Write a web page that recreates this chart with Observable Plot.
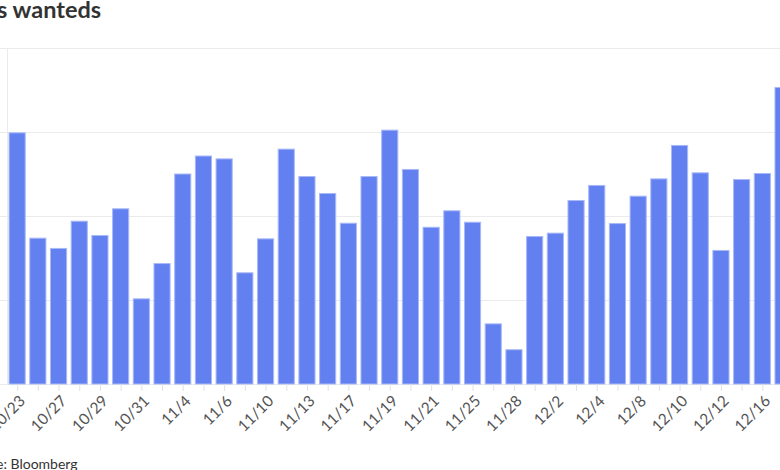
<!DOCTYPE html>
<html>
<head>
<meta charset="utf-8">
<script src="https://cdn.jsdelivr.net/npm/d3@7"></script>
<script src="https://cdn.jsdelivr.net/npm/@observablehq/plot@0.6"></script>
<style>
  html, body { margin: 0; padding: 0; background: #fff; }
  #wrap { position: relative; width: 780px; height: 470px; overflow: hidden; font-family: Lato, "Noto Sans", sans-serif; }
  #title { position: absolute; left: -3px; top: -2px; font-size: 23.5px; line-height: 23px; font-weight: 700; color: #333; white-space: nowrap; }
  #caption { position: absolute; left: -4px; top: 456px; font-size: 14px; line-height: 16px; color: #333; white-space: nowrap; }
  .pre { position: absolute; right: 100%; }
  #chart { position: absolute; left: -53px; top: 30px; width: 866px; }
  #chart svg { max-width: none !important; width: 866px; height: 410px; }
</style>
</head>
<body>
<div id="wrap">
  <div id="title"><span class="pre">Bid</span>s wanteds</div>
  <div id="chart"></div>
  <div id="caption"><span class="pre">Sourc</span>e: Bloomberg</div>
</div>
<script>
const dates = ["10/23","10/24","10/27","10/28","10/29","10/30","10/31","11/3","11/4","11/5",
  "11/6","11/7","11/10","11/12","11/13","11/14","11/17","11/18","11/19","11/20",
  "11/21","11/24","11/25","11/26","11/28","12/1","12/2","12/3","12/4","12/5",
  "12/8","12/9","12/10","12/11","12/12","12/15","12/16","12/17"];
const values = [149.5, 86.8, 80.7, 96.9, 88.4, 104.3, 50.7, 71.7, 125, 135.7,
  134, 66.2, 86.4, 139.8, 123.5, 113.4, 95.7, 123.5, 151.1, 127.7,
  93.3, 103.1, 96.3, 35.8, 20.4, 87.8, 89.8, 109.2, 118.2, 95.5,
  111.8, 122.1, 142, 125.7, 79.5, 121.7, 125.3, 176.5];
const yTicks = [0, 50, 100, 150, 200];

const data = dates.map((d, i) => ({date: d, value: values[i]}));
const labelled = new Set(dates.filter((d, i) => i % 2 === 0));

const chart = Plot.plot({
  width: 866,
  height: 410,
  marginLeft: 60,
  marginRight: 20,
  marginTop: 18,
  marginBottom: 56,
  style: {fontFamily: "Lato, 'Noto Sans', sans-serif", fontSize: "15.5px", background: "#fff", maxWidth: "none"},
  x: {type: "band", domain: dates, range: [60, 846.2], round: false, paddingInner: 0.22, paddingOuter: 0.1, label: null},
  y: {domain: [0, 200], label: null},
  marks: [
    Plot.ruleY(yTicks, {stroke: "#ebebeb"}),
    Plot.frame({stroke: "#ebebeb"}),
    Plot.axisY(yTicks, {tickSize: 10, stroke: "#ebebeb", fill: "#555", label: null}),
    Plot.barY(data, {x: "date", y: "value", fill: "#6380f0", stroke: "#a9b9f8", strokeWidth: 1}),
    Plot.axisX({tickSize: 7, stroke: "#e2e2e2", tickFormat: () => "", label: null}),
    Plot.axisX({tickSize: 0, fill: "#555", tickRotate: -45, tickPadding: 14, dx: 5,
      tickFormat: d => labelled.has(d) ? d : "", label: null})
  ]
});
document.getElementById("chart").appendChild(chart);
</script>
</body>
</html>
